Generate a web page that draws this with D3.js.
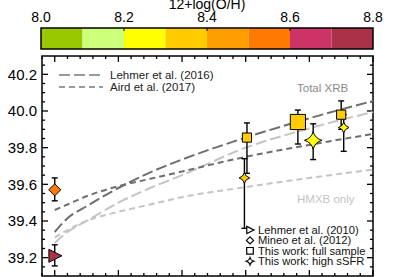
<!DOCTYPE html>
<html>
<head>
<meta charset="utf-8">
<script src="https://cdn.jsdelivr.net/npm/d3@7"></script>
<style>
  body { margin: 0; background: #fff; }
  svg { display: block; font-family: "Liberation Sans", Arial, sans-serif; }
</style>
</head>
<body>
<div id="chart"></div>
<script>
(function(){

    const width = 415;
    const height = 277;

    // metallicity colour bar
    const ohEdges = [8.0, 8.1, 8.2, 8.3, 8.4, 8.5, 8.6, 8.7, 8.8];
    const ohColors = ['#99c800', '#ccff7a', '#ffff00', '#ffcc00', '#ff9e00', '#ff7a00', '#cc3366', '#a83348'];
    const ohTicks = [8.0, 8.2, 8.4, 8.6, 8.8];

    // model curves, log(Lx/SFR) read along redshift
    const zGrid = [0, 0.1, 0.25, 0.5, 0.75, 1.0, 1.5, 2.0, 2.5];
    const lehmerTotal = [39.34, 39.415, 39.48, 39.58, 39.665, 39.735, 39.855, 39.96, 40.055];
    const airdTotal   = [39.46, 39.49, 39.535, 39.59, 39.63, 39.67, 39.75, 39.815, 39.875];
    const lehmerHmxb  = [39.28, 39.34, 39.40, 39.50, 39.58, 39.65, 39.80, 39.905, 39.995];
    const airdHmxb    = [39.31, 39.35, 39.40, 39.45, 39.49, 39.53, 39.585, 39.635, 39.68];

    // measurements
    const ptName   = ['Lehmer2010', 'Mineo2012', 'full1', 'full2', 'full3', 'high1', 'high2', 'high3'];
    const ptSymbol = ['triangle', 'diamond', 'square', 'square', 'square', 'star', 'star', 'star'];
    const ptZ      = [0, 0, 1.51, 1.91, 2.25, 1.49, 2.03, 2.27];
    const ptLx     = [39.21, 39.57, 39.855, 39.94, 39.98, 39.635, 39.84, 39.91];
    const ptLo     = [39.155, 39.51, 39.66, 39.82, 39.90, 39.36, 39.735, 39.78];
    const ptHi     = [39.27, 39.635, 39.935, 40.005, 40.055, 39.74, 39.93, 39.98];
    const ptOH     = [8.75, 8.55, 8.35, 8.35, 8.35, 8.35, 8.25, 8.25];
    const ptWeight = [1, 1, 1, 2.8, 1, 1, 2.8, 1];

    const yTicks = [39.2, 39.4, 39.6, 39.8, 40.0, 40.2];

    const legendNames = ['Lehmer et al. (2010)', 'Mineo et al. (2012)', 'This work: full sample', 'This work: high sSFR'];
    const legendSymbols = ['triangle', 'diamond', 'square', 'star'];

    const svg = d3.select("#chart")
        .append("svg")
        .attr("width", width)
        .attr("height", height);

    // ---- colour bar ----
    const cb = { left: 41, right: 373, top: 28, bottom: 49 };
    const ohScale = d3.scaleLinear().domain([8.0, 8.8]).range([cb.left, cb.right]);
    const ohColor = d3.scaleThreshold().domain(ohEdges.slice(1, -1)).range(ohColors);

    svg.append("g").selectAll("rect")
        .data(ohEdges.slice(0, -1))
        .enter().append("rect")
        .attr("x", d => ohScale(d))
        .attr("y", cb.top)
        .attr("width", d => ohScale(d + 0.1) - ohScale(d))
        .attr("height", cb.bottom - cb.top)
        .attr("fill", d => ohColor(d + 0.05));

    svg.append("rect")
        .attr("x", cb.left).attr("y", cb.top)
        .attr("width", cb.right - cb.left).attr("height", cb.bottom - cb.top)
        .attr("fill", "none").attr("stroke", "#000").attr("stroke-width", 1.5);

    svg.append("g").selectAll("line")
        .data(ohTicks.slice(1, -1))
        .enter().append("line")
        .attr("x1", d => ohScale(d)).attr("x2", d => ohScale(d))
        .attr("y1", cb.top).attr("y2", cb.top + 3)
        .attr("stroke", "#000").attr("stroke-width", 1);

    svg.append("g").selectAll("text")
        .data(ohTicks)
        .enter().append("text")
        .attr("x", d => ohScale(d))
        .attr("y", 21.5)
        .attr("text-anchor", "middle")
        .attr("font-size", 14)
        .text(d => d.toFixed(1));

    // title sits partly above the top edge, as in the original
    svg.append("text")
        .attr("x", 207).attr("y", 8.5)
        .attr("text-anchor", "middle")
        .attr("font-size", 14)
        .text("12+log(O/H)");

    // ---- main panel ----
    const plot = { left: 42, right: 373, top: 56, bottom: 276 };
    const x = d3.scaleLinear().domain([-0.1, 2.5]).range([plot.left, plot.right]);
    const y = d3.scaleLinear().domain([39.1, 40.3]).range([plot.bottom, plot.top]);

    const axes = svg.append("g");
    const tickLines = (vals, len, orient) => {
        vals.forEach(v => {
            let a;
            if (orient === 'left')   a = [plot.left, y(v), plot.left + len, y(v)];
            if (orient === 'right')  a = [plot.right, y(v), plot.right - len, y(v)];
            if (orient === 'bottom') a = [x(v), plot.bottom, x(v), plot.bottom - len];
            if (orient === 'top')    a = [x(v), plot.top, x(v), plot.top + len];
            axes.append("line")
                .attr("x1", a[0]).attr("y1", a[1]).attr("x2", a[2]).attr("y2", a[3])
                .attr("stroke", "#000").attr("stroke-width", 1.3);
        });
    };
    const yMinor = d3.range(39.15, 40.3, 0.05).filter(v => !yTicks.some(t => Math.abs(t - v) < 1e-6));
    const xMajor = [0, 0.5, 1.0, 1.5, 2.0, 2.5];
    const xMinor = d3.range(-0.1, 2.45, 0.1).filter(v => !xMajor.some(t => Math.abs(t - v) < 1e-6));
    tickLines(yTicks, 6, 'left');  tickLines(yMinor, 3, 'left');
    tickLines(yTicks, 6, 'right'); tickLines(yMinor, 3, 'right');
    tickLines(xMajor, 6, 'bottom'); tickLines(xMinor, 3, 'bottom');
    tickLines(xMajor, 6, 'top');    tickLines(xMinor, 3, 'top');

    axes.append("rect")
        .attr("x", plot.left).attr("y", plot.top)
        .attr("width", plot.right - plot.left).attr("height", plot.bottom - plot.top)
        .attr("fill", "none").attr("stroke", "#000").attr("stroke-width", 1.5);

    axes.selectAll(".ylab")
        .data(yTicks)
        .enter().append("text")
        .attr("class", "ylab")
        .attr("x", 37)
        .attr("y", d => y(d))
        .attr("dy", "0.36em")
        .attr("text-anchor", "end")
        .attr("font-size", 15)
        .text(d => d.toFixed(1));

    // model curves
    const curve = d3.line()
        .x((d, i) => x(zGrid[i]))
        .y(d => y(d))
        .curve(d3.curveMonotoneX);

    const models = [
        { vals: airdHmxb,    color: '#c4c4c4', dash: '6,4' },
        { vals: lehmerHmxb,  color: '#c4c4c4', dash: '11,4' },
        { vals: airdTotal,   color: '#6e6e6e', dash: '6,4' },
        { vals: lehmerTotal, color: '#6e6e6e', dash: '11,4' }
    ];
    svg.append("g").selectAll("path")
        .data(models)
        .enter().append("path")
        .attr("d", d => curve(d.vals))
        .attr("fill", "none")
        .attr("stroke", d => d.color)
        .attr("stroke-width", 2)
        .attr("stroke-dasharray", d => d.dash);

    svg.append("text")
        .attr("x", 297).attr("y", 92)
        .attr("font-size", 11.5).attr("fill", "#8a8a8a")
        .text("Total XRB");
    svg.append("text")
        .attr("x", 297).attr("y", 203)
        .attr("font-size", 11.5).attr("fill", "#c4c4c4")
        .text("HMXB only");

    // upper legend
    const modelLegend = [
        { name: 'Lehmer et al. (2016)', dash: '11,4', yv: 75 },
        { name: 'Aird et al. (2017)', dash: '6,4', yv: 87 }
    ];
    const ml = svg.append("g").selectAll("g")
        .data(modelLegend)
        .enter().append("g");
    ml.append("line")
        .attr("x1", 59).attr("x2", 103)
        .attr("y1", d => d.yv).attr("y2", d => d.yv)
        .attr("stroke", "#9a9a9a").attr("stroke-width", 2)
        .attr("stroke-dasharray", d => d.dash);
    ml.append("text")
        .attr("x", 110).attr("y", d => d.yv + 4)
        .attr("font-size", 11.5)
        .attr("fill", "#222")
        .text(d => d.name);

    // symbols
    function symbolPath(kind, r) {
        if (kind === 'square') return `M${-r},${-r}H${r}V${r}H${-r}Z`;
        if (kind === 'diamond') return `M0,${-r}L${r},0L0,${r}L${-r},0Z`;
        if (kind === 'triangle') return `M${-r * 0.9},${-r}L${r * 1.1},0L${-r * 0.9},${r}Z`;
        const k = r * 0.22;
        return `M0,${-r}Q${k},${-k} ${r},0Q${k},${k} 0,${r}Q${-k},${k} ${-r},0Q${-k},${-k} 0,${-r}Z`;
    }
    const sizeScale = d3.scaleSqrt().domain([1, 2.8]).range([1, 1.65]);
    const baseR = { square: 4.6, diamond: 6, triangle: 6.5, star: 5.3 };

    const pts = ptName.map((n, i) => ({
        name: n, sym: ptSymbol[i], z: ptZ[i], v: ptLx[i],
        lo: ptLo[i], hi: ptHi[i], oh: ptOH[i], w: ptWeight[i]
    }));

    const eb = svg.append("g");
    pts.forEach(d => {
        const cx = x(d.z);
        eb.append("line")
            .attr("x1", cx).attr("x2", cx)
            .attr("y1", y(d.lo)).attr("y2", y(d.hi))
            .attr("stroke", "#000").attr("stroke-width", 1.4);
        [d.lo, d.hi].forEach(v => {
            eb.append("line")
                .attr("x1", cx - 3).attr("x2", cx + 3)
                .attr("y1", y(v)).attr("y2", y(v))
                .attr("stroke", "#000").attr("stroke-width", 1.4);
        });
    });

    svg.append("g").selectAll("path")
        .data(pts)
        .enter().append("path")
        .attr("transform", d => `translate(${x(d.z)},${y(d.v)})`)
        .attr("d", d => symbolPath(d.sym, baseR[d.sym] * sizeScale(d.w)))
        .attr("fill", d => ohColor(d.oh))
        .attr("stroke", "#000")
        .attr("stroke-width", 1);

    // lower legend
    const lg = svg.append("g").selectAll("g")
        .data(legendNames)
        .enter().append("g")
        .attr("transform", (d, i) => `translate(250,${230 + i * 10.4})`);
    lg.append("path")
        .attr("d", (d, i) => symbolPath(legendSymbols[i], legendSymbols[i] === 'square' ? 3.3 : 3.6))
        .attr("fill", "#fff")
        .attr("stroke", "#000")
        .attr("stroke-width", 1.2);
    lg.append("text")
        .attr("x", 8).attr("y", 4)
        .attr("font-size", 11.2)
        .attr("fill", "#111")
        .text(d => d);

}());
</script>
</body>
</html>
